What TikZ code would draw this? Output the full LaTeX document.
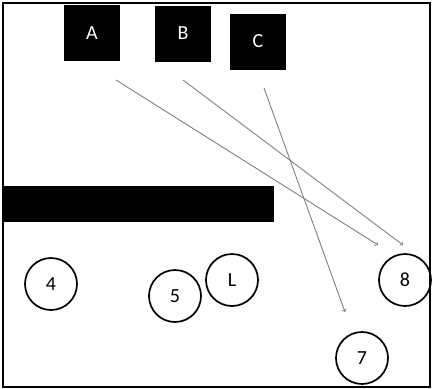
\documentclass[tikz,border=0pt]{standalone}
\usepackage{fontspec}
\setmainfont{Carlito}
\usetikzlibrary{shapes}
\begin{document}
\begin{tikzpicture}[x=1pt,y=-1pt,
  box/.style={fill=black, text=white, minimum size=56pt, inner sep=0pt, font=\fontsize{20}{20}\selectfont},
  player/.style={draw, circle, line width=1.7pt, minimum size=52pt, inner sep=0pt, font=\fontsize{20}{20}\selectfont},
  route/.style={gray, ->, line width=0.9pt}]
\useasboundingbox (0,0) rectangle (432,389);
\draw [line width=1.8pt] (3,3) rectangle (430,387);
\path[fill=black] (3,186) rectangle (274,222);
\node[box] (A) at (92,33) {A};
\node[box] (B) at (183,33.5) {B};
\node[box] (C) at (258,41.5) {C};
\node[player] (p4) at (51,284) {4};
\node[player] (p5) at (175,296) {5};
\node[player] (pL) at (232,280) {L};
\node[player] (p8) at (405,280) {8};
\node[player] (p7) at (362,358) {7};
\coordinate (a1) at (116,80);
\coordinate (a2) at (378,245);
\coordinate (b1) at (183,80);
\coordinate (b2) at (403,245);
\coordinate (c1) at (264,88);
\coordinate (c2) at (345,312);
\draw [route] (a1) -- (a2);
\draw [route] (b1) -- (b2);
\draw [route] (c1) -- (c2);
\end{tikzpicture}
\end{document}
